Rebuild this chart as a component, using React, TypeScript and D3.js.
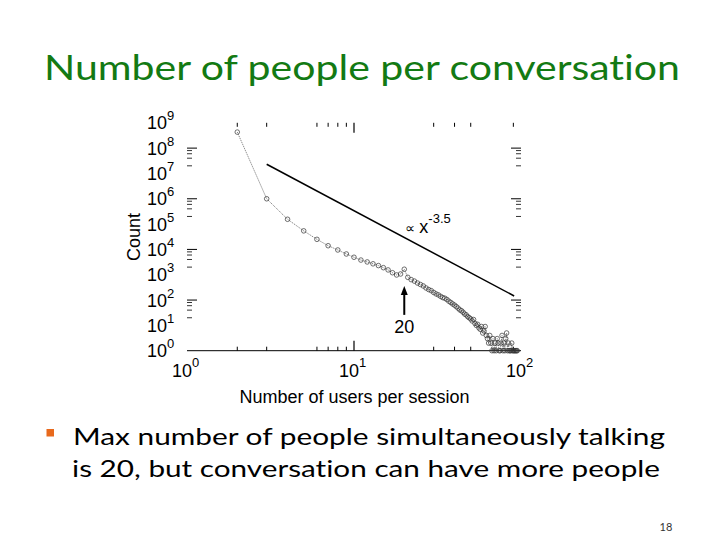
import React from 'react';
import * as d3 from 'd3';

// ---- data ----
const sessionSizes = [
  2, 3, 4, 5, 6, 7, 8, 9, 10, 11, 12, 13, 14, 15, 16, 17, 18, 19, 20, 21,
  22, 23, 24, 25, 26, 27, 28, 29, 30, 31, 32, 33, 34, 35, 36, 37, 38, 39, 40, 41,
  42, 43, 44, 45, 46, 47, 48, 49, 50, 51, 52, 53, 54, 55, 56, 57, 58, 59, 60, 61,
  62, 63, 64, 65, 66, 67, 68, 69, 70, 71, 72, 73, 74, 75, 76, 77, 78, 79, 80, 81,
  82, 83, 84, 85, 86, 87, 88, 89, 90, 91, 92, 93, 94, 95,
];
const sessionCounts = [
  430000000, 1000000, 155000, 54000, 25000, 14000, 9500, 6600, 4900, 3800,
  3200, 2700, 2300, 1900, 1550, 1200, 980, 1070, 1650, 790,
  640, 560, 470, 410, 360, 300, 260, 235, 200, 175,
  160, 140, 125, 118, 105, 90, 80, 70, 63, 55,
  48, 41, 38, 33, 28, 26, 22, 20, 18, 15,
  17, 12, 10, 11, 8, 7, 9, 5, 6, 9,
  4, 3, 2, 4, 2, 1, 3, 1, 2, 1,
  3, 2, 1, 1, 2, 4, 1, 2, 1, 3,
  5, 1, 2, 1, 1, 1, 2, 1, 1, 1,
  1, 1, 1, 1,
];
const fitX = [3, 91];
const fitY = [23000000, 145];
const fitExponentLabel = '-3.5';
const xLabelExponents = [0, 1, 2];
const yLabelExponents = [0, 1, 2, 3, 4, 5, 6, 7, 8, 9];
const xMinorTicks = [2, 3, 6, 7, 8, 9, 30, 40, 50, 90];
const xMajorTicks = [10];
const yMajorTicks = [1e2, 1e4, 1e6, 1e8];
const yMinorTicks = [
  2e1, 4e1, 6e1, 8e1, 2e3, 4e3, 6e3, 8e3, 2e5, 4e5, 6e5, 8e5, 2e7, 4e7, 6e7, 8e7,
];
const arrowAt = 20;
const arrowTip = 360;
const arrowTail = 26;
const arrowLabelY = 5;
const fitLabelAt = [20.3, 45000];

const title = 'Number of people per conversation';
const bulletLines = [
  'Max number of people simultaneously talking',
  'is 20, but conversation can have more people',
];
const pageNumber = '18';

export default function App() {
  const x = d3.scaleLog().domain([1, 100]).range([187, 521]);
  const y = d3.scaleLog().domain([1, 1e9]).range([350.7, 122.8]);
  const pts = sessionSizes.map((s, i) => [s, sessionCounts[i]] as [number, number]);
  const line = d3
    .line<[number, number]>()
    .x((d) => x(d[0]))
    .y((d) => y(d[1]));
  const fitPts = fitX.map((v, i) => [v, fitY[i]] as [number, number]);
  const chartFont = '"Liberation Sans", Arial, sans-serif';
  const slideFont = 'Lato, "Open Sans", sans-serif';
  const top = y(1e9);
  const bottom = y(1);
  const left = x(1);
  const right = x(100);
  const noLig = { fontVariantLigatures: 'none' as const };

  return (
    <svg
      width={720}
      height={540}
      viewBox="0 0 720 540"
      style={{ position: 'absolute', left: 0, top: 0, background: '#fff' }}
    >
      <rect x={0} y={0} width={720} height={540} fill="#fff" />
      <text
        x={44}
        y={80}
        fontFamily={slideFont}
        fontSize={35}
        fill="#137a13"
        textLength={636}
        lengthAdjust="spacingAndGlyphs"
        style={noLig}
      >
        {title}
      </text>

      {/* bottom axis line */}
      <line x1={left} x2={right} y1={bottom} y2={bottom} stroke="#000" strokeWidth={1} />

      {/* x ticks top & bottom */}
      {xMinorTicks.map((t) => (
        <g key={'xm' + t}>
          <line x1={x(t)} x2={x(t)} y1={top} y2={top + 4} stroke="#000" strokeWidth={1} />
          <line x1={x(t)} x2={x(t)} y1={bottom} y2={bottom - 4} stroke="#000" strokeWidth={1} />
        </g>
      ))}
      {xMajorTicks.map((t) => (
        <g key={'xM' + t}>
          <line x1={x(t)} x2={x(t)} y1={top} y2={top + 10} stroke="#000" strokeWidth={1.2} />
          <line x1={x(t)} x2={x(t)} y1={bottom} y2={bottom - 10} stroke="#000" strokeWidth={1.2} />
        </g>
      ))}

      {/* y ticks left & right */}
      {yMajorTicks.map((t) => (
        <g key={'yM' + t}>
          <line x1={left} x2={left + 10} y1={y(t)} y2={y(t)} stroke="#000" strokeWidth={1} />
          <line x1={right} x2={right - 10} y1={y(t)} y2={y(t)} stroke="#000" strokeWidth={1} />
        </g>
      ))}
      {yMinorTicks.map((t) => (
        <g key={'ym' + t}>
          <line x1={left} x2={left + 5} y1={y(t)} y2={y(t)} stroke="#000" strokeWidth={0.8} />
          <line x1={right} x2={right - 5} y1={y(t)} y2={y(t)} stroke="#000" strokeWidth={0.8} />
        </g>
      ))}

      {/* y tick labels */}
      {yLabelExponents.map((e) => (
        <text key={'yl' + e} y={y(Math.pow(10, e)) + 6.5} fontFamily={chartFont} fill="#000">
          <tspan x={left - 20} textAnchor="end" fontSize={18}>
            10
          </tspan>
          <tspan x={left - 20} dy={-9} fontSize={13}>
            {e}
          </tspan>
        </text>
      ))}

      {/* x tick labels */}
      {xLabelExponents.map((e) => (
        <text key={'xl' + e} y={377} fontFamily={chartFont} fill="#000">
          <tspan x={x(Math.pow(10, e)) + 5} textAnchor="end" fontSize={18}>
            10
          </tspan>
          <tspan x={x(Math.pow(10, e)) + 5} dy={-10} fontSize={13}>
            {e}
          </tspan>
        </text>
      ))}

      {/* axis titles */}
      <text
        transform="translate(140,237) rotate(-90)"
        textAnchor="middle"
        fontFamily={chartFont}
        fontSize={18}
        fill="#000"
      >
        Count
      </text>
      <text x={354.5} y={403} textAnchor="middle" fontFamily={chartFont} fontSize={18} fill="#000">
        Number of users per session
      </text>

      {/* fit line */}
      <path d={line(fitPts) || ''} fill="none" stroke="#000" strokeWidth={1.5} />
      <text x={x(fitLabelAt[0])} y={y(fitLabelAt[1])} fontFamily={chartFont} fill="#000">
        <tspan fontSize={14} fontFamily='"DejaVu Sans", sans-serif'>∝</tspan>
        <tspan fontSize={18} dx={4}>x</tspan>
        <tspan fontSize={13} dy={-10}>{fitExponentLabel}</tspan>
      </text>

      {/* data */}
      <path
        d={line(pts) || ''}
        fill="none"
        stroke="#444"
        strokeWidth={0.7}
        strokeDasharray="1.2,1"
      />
      {pts.map((p, i) => (
        <circle
          key={'p' + i}
          cx={x(p[0])}
          cy={y(p[1])}
          r={2.3}
          fill="none"
          stroke="#333"
          strokeWidth={0.7}
        />
      ))}

      {/* arrow annotation */}
      <line
        x1={x(arrowAt)}
        x2={x(arrowAt)}
        y1={y(arrowTail)}
        y2={y(arrowTip) + 7}
        stroke="#000"
        strokeWidth={2}
      />
      <path
        d={`M${x(arrowAt)},${y(arrowTip)} L${x(arrowAt) - 3.5},${y(arrowTip) + 9} L${x(arrowAt) + 3.5},${y(arrowTip) + 9} Z`}
        fill="#000"
      />
      <text
        x={x(arrowAt)}
        y={y(arrowLabelY)}
        textAnchor="middle"
        fontFamily={chartFont}
        fontSize={18}
        fill="#000"
      >
        20
      </text>

      {/* bullet text */}
      <rect x={46.5} y={429} width={7.5} height={7.5} fill="#e8691c" />
      <text
        x={73}
        y={445}
        fontFamily={slideFont}
        fontSize={24}
        fill="#000"
        textLength={592}
        lengthAdjust="spacingAndGlyphs"
        style={noLig}
      >
        {bulletLines[0]}
      </text>
      <text
        x={72}
        y={477}
        fontFamily={slideFont}
        fontSize={24}
        fill="#000"
        textLength={588}
        lengthAdjust="spacingAndGlyphs"
        style={noLig}
      >
        {bulletLines[1]}
      </text>
      <text x={666} y={531} textAnchor="middle" fontFamily={slideFont} fontSize={11} fill="#333">
        {pageNumber}
      </text>
    </svg>
  );
}
